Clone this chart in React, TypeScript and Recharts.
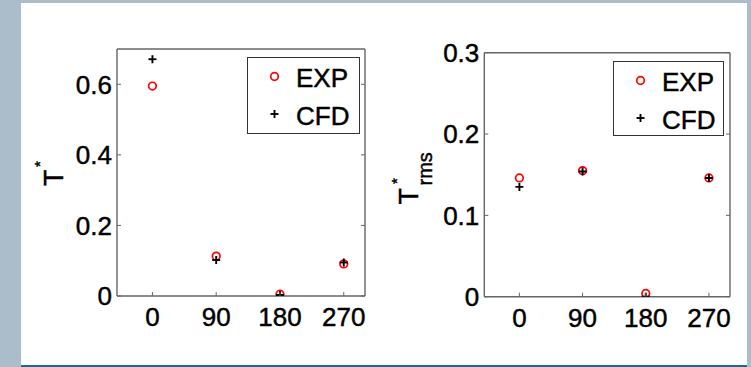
import React from "react";
import { ScatterChart, Scatter, XAxis, YAxis, Legend } from "recharts";

// angle positions (deg)
const angles = [0, 90, 180, 270];

// mean temperature T*
const meanExp = [0.595, 0.113, 0.005, 0.091];
const meanCfd = [0.671, 0.102, 0.003, 0.095];

// rms temperature T*_rms
const rmsExp = [0.146, 0.155, 0.004, 0.146];
const rmsCfd = [0.135, 0.154, 0.0, 0.146];

const angleTicks = [0, 90, 180, 270];
const meanTicks = [0, 0.2, 0.4, 0.6];
const rmsTicks = [0, 0.1, 0.2, 0.3];
const seriesNames = ["EXP", "CFD"];

const FONT = '"Liberation Sans", Arial, Helvetica, sans-serif';
const FRAME = "#666";
const TICK_LEN = 4;
// matlab export looks a little heavier than plain text
const INK = { fill: "#000", stroke: "#000", strokeWidth: 0.45 };

const toPoints = (ys: number[]) => angles.map((a, i) => ({ angle: a, value: ys[i] }));

const ExpMarker = (p: any) => (
  <circle cx={p.cx} cy={p.cy} r={3.8} fill="none" stroke="#ff0000" strokeWidth={1.7} />
);

const CfdMarker = (p: any) => (
  <g stroke="#000" strokeWidth={1.9}>
    <line x1={p.cx - 4} y1={p.cy} x2={p.cx + 4} y2={p.cy} />
    <line x1={p.cx} y1={p.cy - 4} x2={p.cx} y2={p.cy + 4} />
  </g>
);

// matlab style: ticks point inwards, labels outside
const BottomTick = ({ x, y, payload }: any) => (
  <g>
    <line x1={x} y1={y} x2={x} y2={y - TICK_LEN} stroke={FRAME} />
    <text x={x} y={y + 30} textAnchor="middle" fontSize={26} fontFamily={FONT} {...INK}>
      {payload.value}
    </text>
  </g>
);

const TopTick = ({ x, y }: any) => <line x1={x} y1={y} x2={x} y2={y + TICK_LEN} stroke={FRAME} />;

const LeftTick = ({ x, y, payload }: any) => (
  <g>
    <line x1={x} y1={y} x2={x + TICK_LEN} y2={y} stroke={FRAME} />
    <text x={x - 5} y={y} dy="0.36em" textAnchor="end" fontSize={26} fontFamily={FONT} {...INK}>
      {payload.value}
    </text>
  </g>
);

const RightTick = ({ x, y }: any) => <line x1={x} y1={y} x2={x - TICK_LEN} y2={y} stroke={FRAME} />;

const rot = (x: number, y: number) => `rotate(-90 ${x} ${y})`;

const MeanLabel = (props: any) => {
  const vb = props.viewBox || { x: 57, y: 49, width: 60, height: 247 };
  const bx = vb.x + 5.5;
  const sy = vb.y + vb.height / 2 + 13.5;
  const ax = bx - 18;
  const ay = sy - 19;
  return (
    <g fontFamily={FONT} {...INK}>
      <text x={bx} y={sy} transform={rot(bx, sy)} fontSize={27}>T</text>
      <text x={ax} y={ay} transform={rot(ax, ay)} fontSize={15}>*</text>
    </g>
  );
};

const RmsLabel = (props: any) => {
  const vb = props.viewBox || { x: 49.3, y: 52.7, width: 60, height: 244 };
  const bx = vb.x - 6.8;
  const sy = vb.y + vb.height / 2 + 29.8;
  const ax = bx - 16;
  const ay = sy - 20.5;
  const rx = bx + 14.2;
  const ry = sy - 19;
  return (
    <g fontFamily={FONT} {...INK}>
      <text x={bx} y={sy} transform={rot(bx, sy)} fontSize={27}>T</text>
      <text x={ax} y={ay} transform={rot(ax, ay)} fontSize={15}>*</text>
      <text x={rx} y={ry} transform={rot(rx, ry)} fontSize={20}>rms</text>
    </g>
  );
};

const LegendBox = ({ w, h }: { w: number; h: number }) => (
  <svg width={w} height={h} style={{ display: "block" }}>
    <rect x={0.5} y={0.5} width={w - 1} height={h - 1} fill="#fff" stroke="#333" />
    <ExpMarker cx={27.5} cy={19.5} />
    <text x={49} y={30} fontSize={26} fontFamily={FONT} {...INK}>{seriesNames[0]}</text>
    <CfdMarker cx={27.5} cy={57} />
    <text x={49} y={67.5} fontSize={26} fontFamily={FONT} {...INK}>{seriesNames[1]}</text>
  </svg>
);

interface PanelProps {
  width: number;
  margin: { top: number; right: number; bottom: number; left: number };
  exp: number[];
  cfd: number[];
  yDomain: [number, number];
  yTicks: number[];
  legend: { left: number; top: number; width: number; height: number };
  label: (p: any) => React.ReactElement;
}

const Panel = ({ width, margin, exp, cfd, yDomain, yTicks, legend, label }: PanelProps) => (
  <ScatterChart width={width} height={367} margin={margin}>
    <XAxis
      type="number"
      dataKey="angle"
      domain={[-50, 300]}
      allowDataOverflow
      ticks={angleTicks}
      interval={0}
      height={30}
      tickSize={0}
      tickMargin={0}
      tickLine={false}
      axisLine={{ stroke: FRAME, strokeWidth: 1.4 }}
      tick={<BottomTick />}
    />
    <XAxis
      xAxisId="top"
      orientation="top"
      type="number"
      domain={[-50, 300]}
      allowDataOverflow
      ticks={angleTicks}
      interval={0}
      height={1}
      tickSize={0}
      tickMargin={0}
      tickLine={false}
      axisLine={{ stroke: FRAME, strokeWidth: 1.4 }}
      tick={<TopTick />}
    />
    <YAxis
      type="number"
      dataKey="value"
      domain={yDomain}
      allowDataOverflow
      ticks={yTicks}
      interval={0}
      width={60}
      tickSize={0}
      tickMargin={0}
      tickLine={false}
      axisLine={{ stroke: FRAME, strokeWidth: 1.4 }}
      tick={<LeftTick />}
      label={label}
    />
    <YAxis
      yAxisId="right"
      orientation="right"
      type="number"
      domain={yDomain}
      allowDataOverflow
      ticks={yTicks}
      interval={0}
      width={1}
      tickSize={0}
      tickMargin={0}
      tickLine={false}
      axisLine={{ stroke: FRAME, strokeWidth: 1.4 }}
      tick={<RightTick />}
    />
    <Legend
      layout="horizontal"
      verticalAlign="middle"
      align="center"
      wrapperStyle={{ left: legend.left, top: legend.top, width: legend.width, height: legend.height }}
      content={() => <LegendBox w={legend.width} h={legend.height} />}
    />
    <Scatter name={seriesNames[0]} data={toPoints(exp)} shape={ExpMarker} isAnimationActive={false} />
    <Scatter name={seriesNames[1]} data={toPoints(cfd)} shape={CfdMarker} isAnimationActive={false} />
  </ScatterChart>
);

export default function App() {
  return (
    <div
      style={{
        position: "absolute",
        left: 0,
        top: 0,
        width: 751,
        height: 367,
        background: "#abbdca",
        overflow: "hidden",
        fontFamily: FONT
      }}
    >
      <div style={{ position: "absolute", left: 21, top: 3, width: 726, height: 362, background: "#fff" }} />
      <div style={{ position: "absolute", left: 21, top: 365, width: 726, height: 2, background: "#1d6b8e" }} />
      <div style={{ position: "absolute", left: 0, top: 0 }}>
        <Panel
          width={375}
          margin={{ top: 48, right: 9, bottom: 41, left: 57 }}
          exp={meanExp}
          cfd={meanCfd}
          yDomain={[0, 0.7]}
          yTicks={meanTicks}
          legend={{ left: 247, top: 57, width: 113, height: 77 }}
          label={MeanLabel}
        />
      </div>
      <div style={{ position: "absolute", left: 375, top: 0 }}>
        <Panel
          width={376}
          margin={{ top: 51.7, right: 20, bottom: 40.3, left: 49.3 }}
          exp={rmsExp}
          cfd={rmsCfd}
          yDomain={[0, 0.3]}
          yTicks={rmsTicks}
          legend={{ left: 238.3, top: 60.7, width: 111, height: 75 }}
          label={RmsLabel}
        />
      </div>
    </div>
  );
}
